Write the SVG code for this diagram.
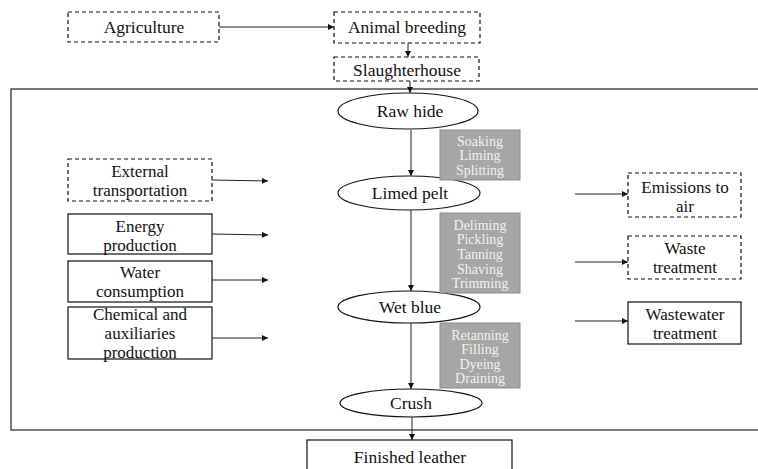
<svg xmlns="http://www.w3.org/2000/svg" width="758" height="469" viewBox="0 0 758 469">
  <defs>
    <marker id="arr" viewBox="0 0 8 8" refX="8" refY="4" markerWidth="6" markerHeight="6" markerUnits="userSpaceOnUse" orient="auto">
      <path d="M0,0 L8,4 L0,8 z" fill="#111"/>
    </marker>
    <style>
      text { font-family: 'Liberation Serif', 'DejaVu Serif', 'Noto Serif', serif; text-anchor: middle; }
      .t { font-size: 17.5px; fill: #111; }
      .m { font-size: 17px; fill: #111; }
      .s { font-size: 14px; fill: #f2f2f2; }
      .box { fill: #fff; stroke: #111; stroke-width: 1.2; }
      .dash { fill: #fff; stroke: #111; stroke-width: 1.2; stroke-dasharray: 4 3; }
      .ell { fill: #fff; stroke: #111; stroke-width: 1.2; }
      .step { fill: #a6a6a6; stroke: #8c8c8c; stroke-width: 1; }
      .frame { fill: none; stroke: #222; stroke-width: 1.2; }
      .conn line { stroke: #222; stroke-width: 1; marker-end: url(#arr); }
    </style>
  </defs>

  <rect width="758" height="469" fill="#fff"/>

  <!-- tannery system boundary -->
  <rect class="frame" x="11" y="89" width="760" height="341"/>

  <!-- upstream chain -->
  <g id="agriculture">
    <rect class="dash" x="68" y="12" width="151" height="30"/>
    <text class="t" x="144" y="33">Agriculture</text>
  </g>
  <g id="animal-breeding">
    <rect class="dash" x="334" y="12" width="146" height="31"/>
    <text class="t" x="407" y="33">Animal breeding</text>
  </g>
  <g id="slaughterhouse">
    <rect class="dash" x="334" y="57" width="145" height="24"/>
    <text class="t" x="407" y="76">Slaughterhouse</text>
  </g>

  <!-- product states -->
  <g id="raw-hide">
    <ellipse class="ell" cx="408" cy="111" rx="70" ry="18"/>
    <text class="t" x="410" y="117">Raw hide</text>
  </g>
  <g id="limed-pelt">
    <ellipse class="ell" cx="409" cy="193" rx="71" ry="17"/>
    <text class="t" x="410" y="199">Limed pelt</text>
  </g>
  <g id="wet-blue">
    <ellipse class="ell" cx="409" cy="307" rx="71" ry="16"/>
    <text class="t" x="410" y="313">Wet blue</text>
  </g>
  <g id="crush">
    <ellipse class="ell" cx="411" cy="403" rx="71" ry="14"/>
    <text class="t" x="411" y="409">Crush</text>
  </g>
  <g id="finished-leather">
    <rect class="box" x="307" y="440" width="205" height="40"/>
    <text class="t" x="410" y="463">Finished leather</text>
  </g>

  <!-- process steps -->
  <g id="beamhouse">
    <rect class="step" x="440" y="130" width="80" height="50"/>
    <text class="s" x="480" y="146">Soaking</text>
    <text class="s" x="480" y="160">Liming</text>
    <text class="s" x="480" y="175">Splitting</text>
  </g>
  <g id="tanning">
    <rect class="step" x="440" y="213" width="80" height="80"/>
    <text class="s" x="480" y="230">Deliming</text>
    <text class="s" x="480" y="244">Pickling</text>
    <text class="s" x="480" y="259">Tanning</text>
    <text class="s" x="480" y="274">Shaving</text>
    <text class="s" x="480" y="288">Trimming</text>
  </g>
  <g id="post-tanning">
    <rect class="step" x="440" y="323" width="80" height="65"/>
    <text class="s" x="480" y="340">Retanning</text>
    <text class="s" x="480" y="354">Filling</text>
    <text class="s" x="480" y="369">Dyeing</text>
    <text class="s" x="480" y="383">Draining</text>
  </g>

  <!-- inputs -->
  <g id="external-transportation">
    <rect class="dash" x="68" y="159" width="144" height="42"/>
    <text class="m" x="140" y="177">External</text>
    <text class="m" x="140" y="196">transportation</text>
  </g>
  <g id="energy-production">
    <rect class="box" x="68" y="214" width="144" height="40"/>
    <text class="m" x="140" y="232">Energy</text>
    <text class="m" x="140" y="251">production</text>
  </g>
  <g id="water-consumption">
    <rect class="box" x="68" y="261" width="144" height="41"/>
    <text class="m" x="140" y="278">Water</text>
    <text class="m" x="140" y="297">consumption</text>
  </g>
  <g id="chemical-production">
    <rect class="box" x="68" y="307" width="144" height="52"/>
    <text class="m" x="140" y="320">Chemical and</text>
    <text class="m" x="140" y="339">auxiliaries</text>
    <text class="m" x="140" y="358">production</text>
  </g>

  <!-- outputs -->
  <g id="emissions-to-air">
    <rect class="dash" x="628" y="173" width="113" height="44"/>
    <text class="m" x="685" y="193">Emissions to</text>
    <text class="m" x="685" y="212">air</text>
  </g>
  <g id="waste-treatment">
    <rect class="dash" x="628" y="236" width="113" height="43"/>
    <text class="m" x="685" y="254">Waste</text>
    <text class="m" x="685" y="273">treatment</text>
  </g>
  <g id="wastewater-treatment">
    <rect class="box" x="628" y="302" width="113" height="42"/>
    <text class="m" x="685" y="320">Wastewater</text>
    <text class="m" x="685" y="339">treatment</text>
  </g>

  <!-- connectors -->
  <g id="connectors" class="conn">
    <line x1="219" y1="27" x2="334" y2="27"/>
    <line x1="408" y1="43" x2="408" y2="57"/>
    <line x1="410" y1="81" x2="410" y2="93"/>
    <line x1="411" y1="130" x2="411" y2="176"/>
    <line x1="411" y1="210" x2="411" y2="291"/>
    <line x1="411" y1="323" x2="411" y2="389"/>
    <line x1="412" y1="417" x2="412" y2="440"/>
    <line x1="212" y1="180" x2="268" y2="181"/>
    <line x1="212" y1="234" x2="268" y2="235"/>
    <line x1="212" y1="280" x2="268" y2="280"/>
    <line x1="212" y1="338" x2="268" y2="338"/>
    <line x1="575" y1="194" x2="628" y2="194"/>
    <line x1="575" y1="262" x2="628" y2="262"/>
    <line x1="575" y1="321" x2="628" y2="321"/>
  </g>
</svg>
